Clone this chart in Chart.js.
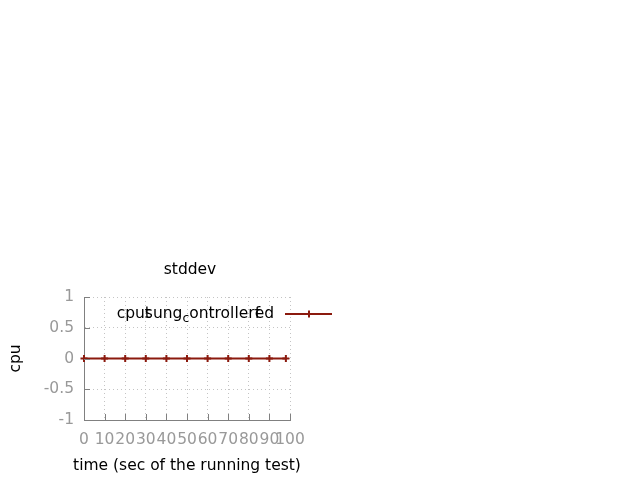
<!DOCTYPE html>
<html><head><meta charset="utf-8">
<script src="https://cdn.jsdelivr.net/npm/chart.js@4/dist/chart.umd.min.js"></script>
<style>html,body{margin:0;padding:0;background:#fff}#c{display:block}</style>
</head><body><canvas id="c" width="640" height="480"></canvas>
<script>
const times = [0, 10, 20, 30, 40, 50, 60, 70, 80, 90, 98];
const stddevValues = [0, 0, 0, 0, 0, 0, 0, 0, 0, 0, 0];
const xTickValues = [0, 10, 20, 30, 40, 50, 60, 70, 80, 90, 100];
const yTickValues = [-1, -0.5, 0, 0.5, 1];
const chartTitle = 'stddev';
const xAxisTitle = 'time (sec of the running test)';
const yAxisTitle = 'cpu';
// legend label as rendered (overlapping / subscript pieces)
const legendParts = [
  {t: 'cpu'}, {t: 't', over: 's'}, {t: 'ung'}, {t: 'c', sub: true},
  {t: 'ontroller'}, {t: 'f', over: 'e'}, {t: 'd'}
];

const FONT_FAMILY = '"DejaVu Sans", sans-serif';
const FONT_SIZE = 15.5;
const LINE_COLOR = '#8b1a0e';
const AXIS_COLOR = '#808080';
const TICK_COLOR = '#999999';
const GRID_COLOR = '#c4c4c4';

const overlay = {
  id: 'overlay',
  afterDatasetsDraw(chart) {
    const {ctx, chartArea: a, scales: {x, y}} = chart;
    ctx.save();
    // inward tick marks
    ctx.strokeStyle = AXIS_COLOR; ctx.lineWidth = 1;
    x.ticks.forEach(t => {
      const px = Math.round(x.getPixelForValue(t.value)) + 0.5;
      ctx.beginPath(); ctx.moveTo(px, a.bottom); ctx.lineTo(px, a.bottom - 6); ctx.stroke();
    });
    y.ticks.forEach(t => {
      const py = Math.round(y.getPixelForValue(t.value)) + 0.5;
      ctx.beginPath(); ctx.moveTo(a.left, py); ctx.lineTo(a.left + 6, py); ctx.stroke();
    });
    const mainFont = FONT_SIZE + 'px ' + FONT_FAMILY;
    const subFont = (FONT_SIZE * 0.8) + 'px ' + FONT_FAMILY;
    // title
    ctx.font = mainFont;
    ctx.fillStyle = '#000';
    ctx.textAlign = 'center'; ctx.textBaseline = 'middle';
    ctx.fillText(chartTitle, (a.left + a.right) / 2 + 3, a.top - 27);
    // x axis title (unsqueezed)
    ctx.fillText(xAxisTitle, (a.left + a.right) / 2, a.bottom + 46);
    // legend text
    const ly = a.top + 17;
    ctx.textAlign = 'left'; ctx.textBaseline = 'middle';
    let total = 0;
    legendParts.forEach(p => {
      ctx.font = p.sub ? subFont : mainFont;
      const w = Math.max(ctx.measureText(p.t).width, p.over ? ctx.measureText(p.over).width : 0);
      total += w;
    });
    let lx = 274 - total;
    legendParts.forEach(p => {
      ctx.font = p.sub ? subFont : mainFont;
      const yy = p.sub ? ly + 5 : ly;
      ctx.fillText(p.t, lx, yy);
      let w = ctx.measureText(p.t).width;
      if (p.over) { ctx.fillText(p.over, lx, yy); w = Math.max(w, ctx.measureText(p.over).width); }
      lx += w;
    });
    // legend sample
    const ds = chart.data.datasets[0];
    ctx.strokeStyle = ds.borderColor; ctx.lineWidth = 2;
    ctx.beginPath(); ctx.moveTo(285, ly); ctx.lineTo(332, ly); ctx.stroke();
    ctx.beginPath(); ctx.moveTo(309, ly - 3.5); ctx.lineTo(309, ly + 3.5); ctx.stroke();
    ctx.beginPath(); ctx.moveTo(305.5, ly); ctx.lineTo(312.5, ly); ctx.stroke();
    ctx.restore();
  }
};

new Chart(document.getElementById('c'), {
  type: 'line',
  data: {
    datasets: [{
      label: 'cpusung_controlled f',
      data: times.map((t, i) => ({x: t, y: stddevValues[i]})),
      borderColor: LINE_COLOR,
      backgroundColor: LINE_COLOR,
      borderWidth: 2,
      pointStyle: 'cross',
      pointRadius: 3.5,
      pointBorderWidth: 2,
      pointBorderColor: LINE_COLOR,
      tension: 0,
      clip: false
    }]
  },
  options: {
    responsive: false,
    animation: false,
    devicePixelRatio: 1,
    layout: {padding: {left: 0, top: 297, right: 350, bottom: 0}},
    plugins: {legend: {display: false}, title: {display: false}, tooltip: {enabled: false}},
    scales: {
      x: {
        type: 'linear', min: 0, max: 100,
        afterBuildTicks: s => { s.ticks = xTickValues.map(v => ({value: v})); },
        afterFit: s => { s.height = 60; },
        grid: {color: GRID_COLOR, drawTicks: false, lineWidth: 1},
        border: {display: true, color: AXIS_COLOR, width: 1, dash: [1, 3]},
        ticks: {color: TICK_COLOR, padding: 11, maxRotation: 0, autoSkip: false,
          callback: v => String(v),
          font: {family: FONT_FAMILY, size: FONT_SIZE}},
        title: {display: false, text: xAxisTitle}
      },
      y: {
        type: 'linear', min: -1, max: 1,
        afterBuildTicks: s => { s.ticks = yTickValues.map(v => ({value: v})); },
        afterFit: s => { s.width = 84; },
        grid: {color: GRID_COLOR, drawTicks: false, lineWidth: 1},
        border: {display: true, color: AXIS_COLOR, width: 1, dash: [1, 3]},
        ticks: {color: TICK_COLOR, padding: 10,
          callback: v => String(v),
          font: {family: FONT_FAMILY, size: FONT_SIZE}},
        title: {display: true, text: yAxisTitle, color: '#000', padding: {top: 7, bottom: 0},
          font: {family: FONT_FAMILY, size: FONT_SIZE}}
      }
    }
  },
  plugins: [overlay]
});
</script>
</body></html>
